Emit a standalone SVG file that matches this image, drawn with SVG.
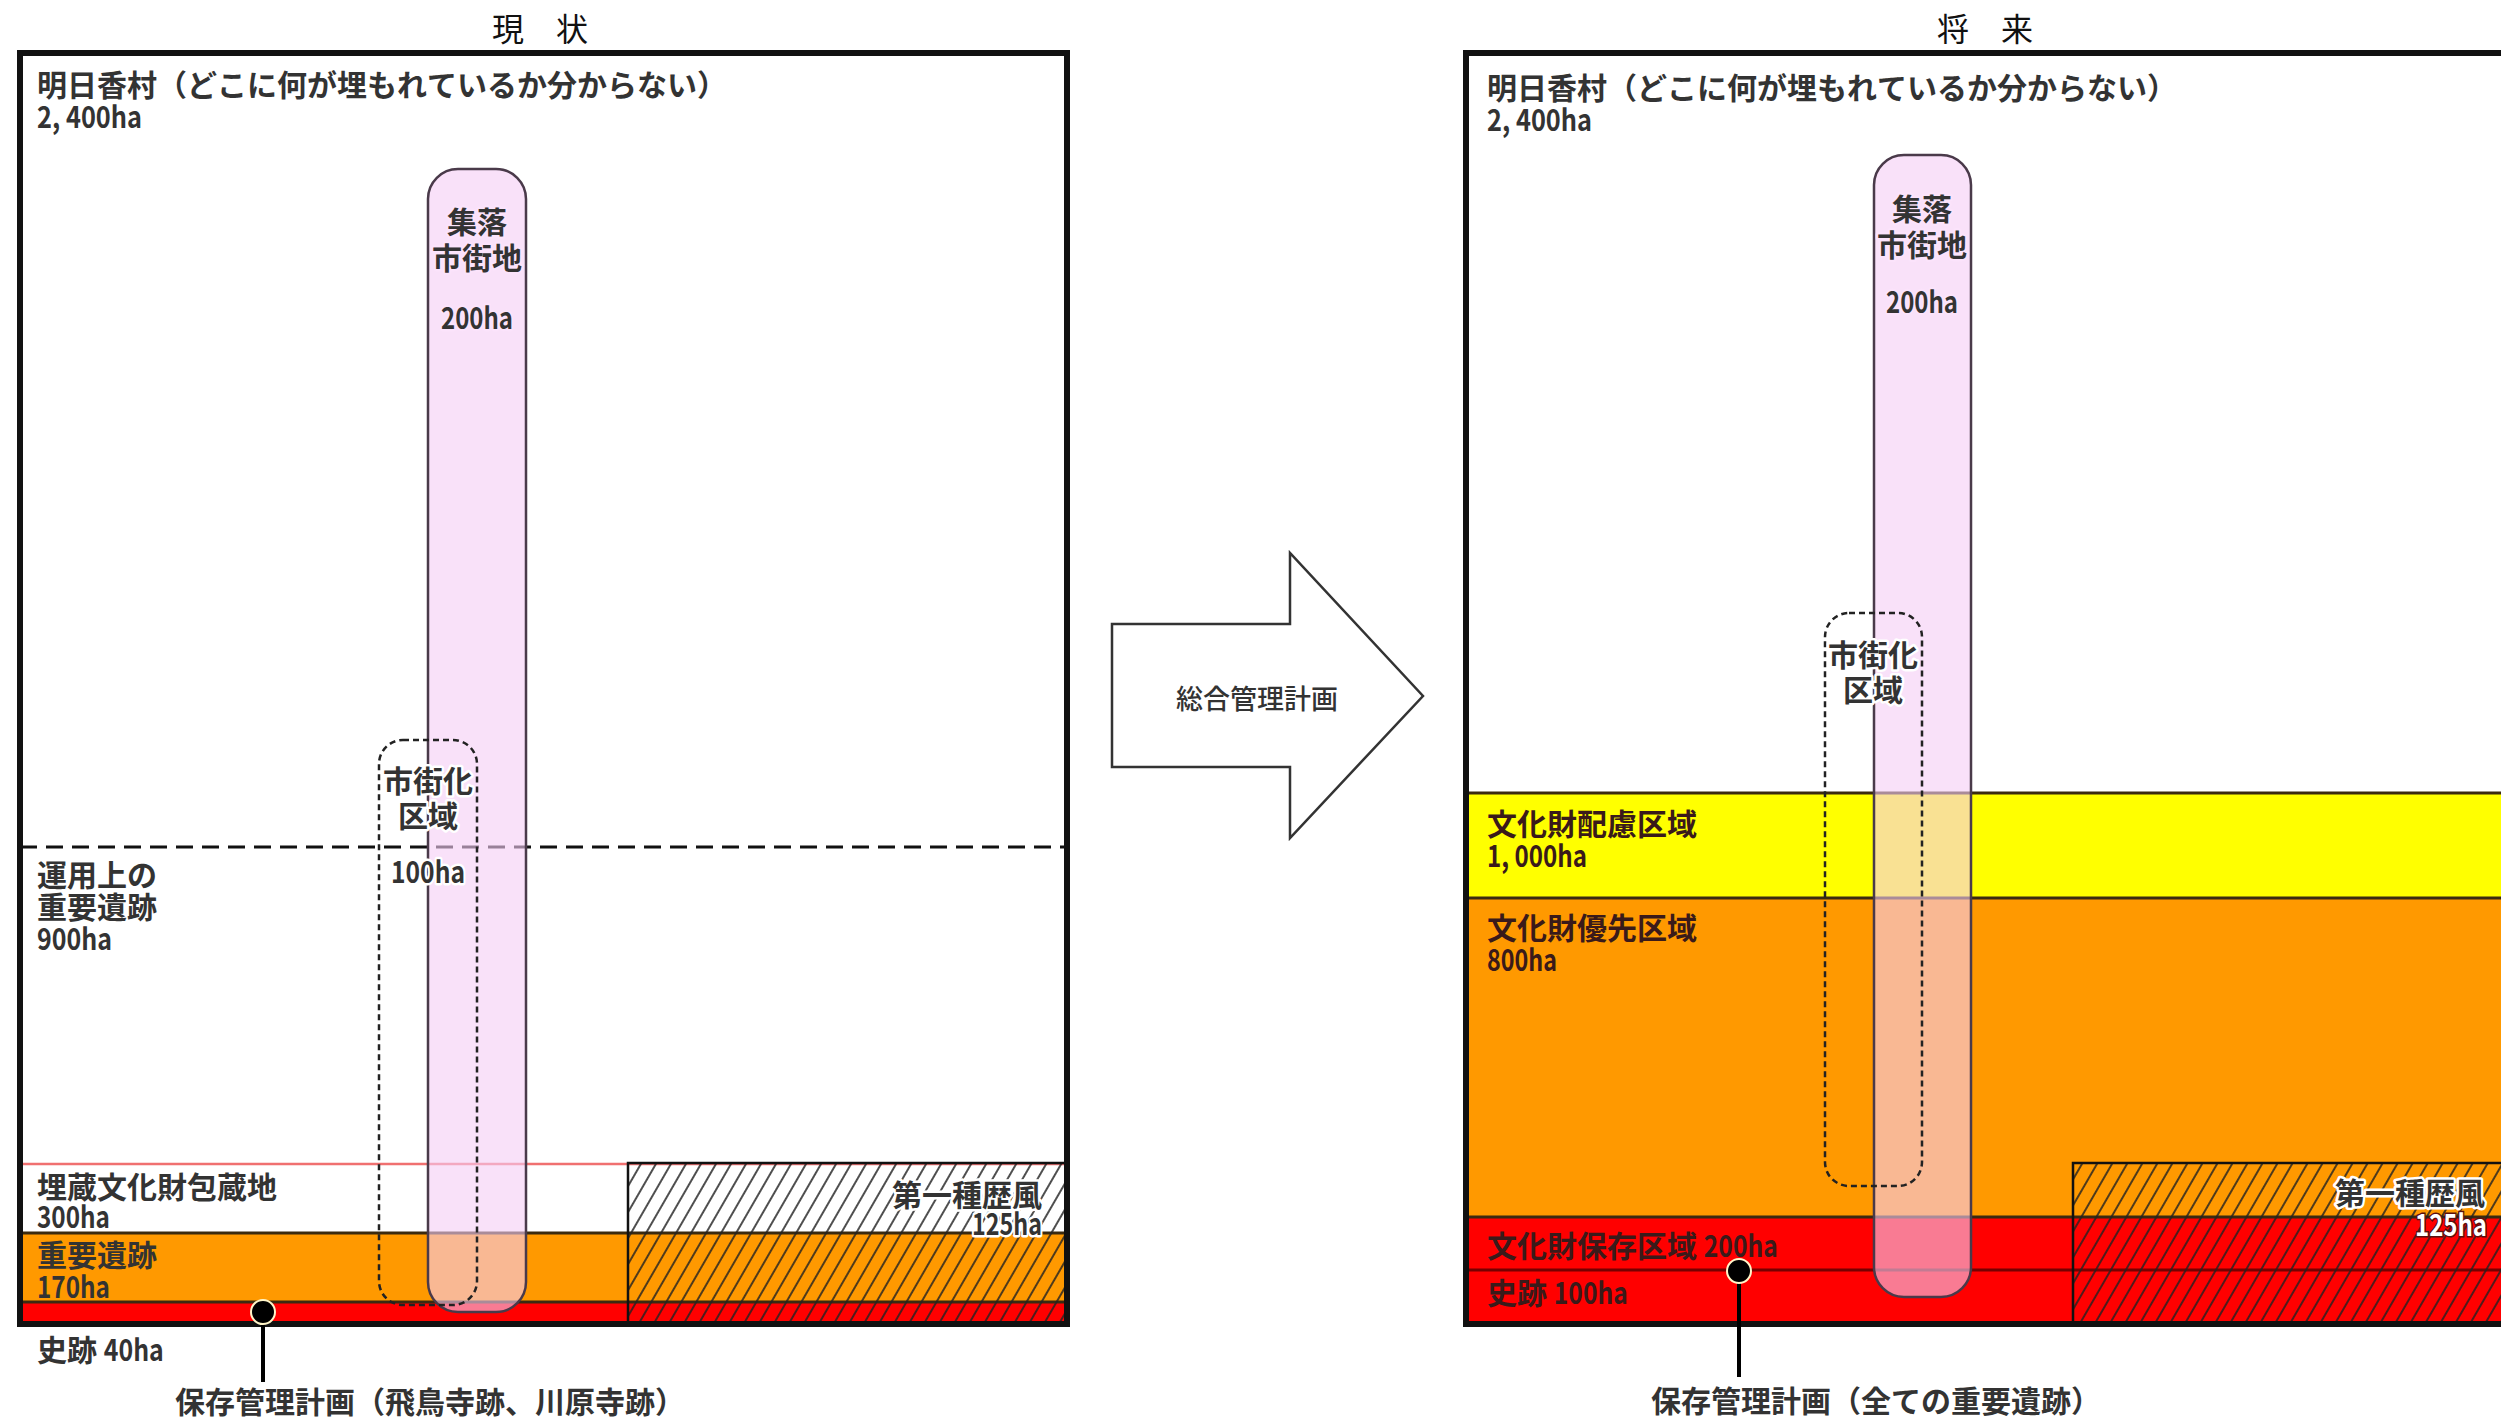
<svg xmlns="http://www.w3.org/2000/svg" width="2501" height="1420" viewBox="0 0 2501 1420">
<style>
text{font-family:"Noto Sans CJK JP","Noto Sans",sans-serif;font-size:30px;fill:#333;font-weight:700;dominant-baseline:central;font-kerning:none}
.title{font-size:32px;fill:#111;font-weight:400;text-anchor:middle}
.mid{text-anchor:middle}
.end{text-anchor:end}
.halo{paint-order:stroke;stroke:#fff;stroke-width:5px;stroke-linejoin:round}
.phalo{paint-order:stroke;stroke:#fbe3fb;stroke-width:5px;stroke-linejoin:round}
.frame{fill:none;stroke:#111;stroke-width:6}
.capsule{fill:rgb(245,205,245);fill-opacity:0.6;stroke:#4a3a4a;stroke-width:2.5}
.dbox{fill:none;stroke:#222;stroke-width:2.5;stroke-dasharray:6 4}
.bline{stroke:#3a2a10;stroke-width:3}
.hatchbox{fill:url(#hatch);stroke:#111;stroke-width:2.5}
.dark{fill:#3a1a1a}
</style>
<defs>
<pattern id="hatch" patternUnits="userSpaceOnUse" width="13" height="13" patternTransform="rotate(30)">
<line x1="6" y1="-2" x2="6" y2="15" stroke="#222" stroke-width="1.6"/>
</pattern>
</defs>
<rect x="0" y="0" width="2501" height="1420" fill="#fff"/>

<text id="title-left" class="title" x="540" y="27">現　状</text>
<text id="title-right" class="title" x="1985" y="27">将　来</text>

<g id="panel-left">
<rect x="20" y="53" width="1047" height="1271" fill="#fff"/>
<rect x="20" y="1233" width="1047" height="69" fill="#ff9900"/>
<rect x="20" y="1302" width="1047" height="20" fill="#ff0000"/>
<line x1="20" y1="1164" x2="1067" y2="1164" stroke="#f07070" stroke-width="2.5"/>
<line class="bline" x1="20" y1="1233" x2="1067" y2="1233"/>
<line class="bline" x1="20" y1="1302" x2="1067" y2="1302"/>
<rect class="hatchbox" x="628" y="1163" width="439" height="161"/>
<line x1="20" y1="847" x2="1067" y2="847" stroke="#111" stroke-width="3" stroke-dasharray="17 9"/>
</g>

<g id="panel-right">
<rect x="1466" y="53" width="1060" height="1271" fill="#fff"/>
<rect x="1466" y="793" width="1060" height="105" fill="#ffff00"/>
<rect x="1466" y="898" width="1060" height="319" fill="#ff9900"/>
<rect x="1466" y="1217" width="1060" height="105" fill="#ff0000"/>
<line class="bline" x1="1466" y1="793" x2="2510" y2="793"/>
<line class="bline" x1="1466" y1="898" x2="2510" y2="898"/>
<line class="bline" x1="1466" y1="1217" x2="2510" y2="1217"/>
<line x1="1466" y1="1270" x2="2510" y2="1270" stroke="#700" stroke-width="3"/>
<rect class="hatchbox" x="2073" y="1163" width="450" height="161"/>
</g>

<g id="village-left">
<text x="37" y="83"><tspan x="37" y="83">明日香村（どこに何が埋もれているか分からない）</tspan><tspan x="37" y="115" textLength="105" lengthAdjust="spacingAndGlyphs">2, 400ha</tspan></text>
</g>
<g id="village-right">
<text x="1487" y="86"><tspan x="1487" y="86">明日香村（どこに何が埋もれているか分からない）</tspan><tspan x="1487" y="118" textLength="105" lengthAdjust="spacingAndGlyphs">2, 400ha</tspan></text>
</g>

<g id="important-operational">
<text x="37" y="873"><tspan x="37" y="873">運用上の</tspan><tspan x="37" y="905">重要遺跡</tspan><tspan x="37" y="937" textLength="75" lengthAdjust="spacingAndGlyphs">900ha</tspan></text>
</g>

<g id="buried-left">
<text x="37" y="1185"><tspan x="37" y="1185">埋蔵文化財包蔵地</tspan><tspan x="37" y="1215" textLength="73" lengthAdjust="spacingAndGlyphs">300ha</tspan></text>
</g>
<g id="important-left">
<text x="37" y="1253"><tspan x="37" y="1253">重要遺跡</tspan><tspan x="37" y="1285" textLength="73" lengthAdjust="spacingAndGlyphs">170ha</tspan></text>
</g>
<g id="historic-left">
<text x="37" y="1348">史跡 <tspan textLength="60" lengthAdjust="spacingAndGlyphs">40ha</tspan></text>
</g>
<g id="scenic-left">
<text class="end halo" x="1042" y="1193"><tspan x="1042" y="1193">第一種歴風</tspan><tspan x="1042" y="1222" textLength="70" lengthAdjust="spacingAndGlyphs">125ha</tspan></text>
</g>

<g id="zone-consider">
<text class="dark" x="1487" y="822"><tspan x="1487" y="822">文化財配慮区域</tspan><tspan x="1487" y="854" textLength="100" lengthAdjust="spacingAndGlyphs">1, 000ha</tspan></text>
</g>
<g id="zone-priority">
<text class="dark" x="1487" y="926"><tspan x="1487" y="926">文化財優先区域</tspan><tspan x="1487" y="958" textLength="70" lengthAdjust="spacingAndGlyphs">800ha</tspan></text>
</g>
<g id="zone-preserve">
<text class="dark" x="1487" y="1244">文化財保存区域 <tspan textLength="74" lengthAdjust="spacingAndGlyphs">200ha</tspan></text>
</g>
<g id="historic-right">
<text class="dark" x="1487" y="1291">史跡 <tspan textLength="74" lengthAdjust="spacingAndGlyphs">100ha</tspan></text>
</g>
<g id="scenic-right">
<text class="end halo" x="2485" y="1191">第一種歴風</text>
<text class="end" x="2487" y="1223" textLength="72" lengthAdjust="spacingAndGlyphs" style="fill:#fff;stroke:#5a1010;stroke-width:3px;paint-order:stroke">125ha</text>
</g>

<g id="settlement-left">
<rect class="capsule" x="428" y="169" width="98" height="1143" rx="30"/>
<text class="mid phalo" x="477" y="220"><tspan x="477" y="220">集落</tspan><tspan x="477" y="256">市街地</tspan><tspan x="477" y="316" textLength="72" lengthAdjust="spacingAndGlyphs">200ha</tspan></text>
</g>
<g id="urbanization-left">
<rect class="dbox" x="379" y="740" width="98" height="565" rx="24"/>
<text class="mid halo" x="428" y="779"><tspan x="428" y="779">市街化</tspan><tspan x="428" y="814">区域</tspan><tspan x="428" y="870" textLength="74" lengthAdjust="spacingAndGlyphs">100ha</tspan></text>
</g>

<g id="settlement-right">
<rect class="capsule" x="1874" y="155" width="97" height="1142" rx="30"/>
<text class="mid phalo" x="1922" y="207"><tspan x="1922" y="207">集落</tspan><tspan x="1922" y="243">市街地</tspan><tspan x="1922" y="300" textLength="72" lengthAdjust="spacingAndGlyphs">200ha</tspan></text>
</g>
<g id="urbanization-right">
<rect class="dbox" x="1825" y="613" width="97" height="573" rx="24"/>
<text class="mid halo" x="1873" y="653"><tspan x="1873" y="653">市街化</tspan><tspan x="1873" y="688">区域</tspan></text>
</g>

<rect class="frame" x="20" y="53" width="1047" height="1271"/>
<rect class="frame" x="1466" y="53" width="1060" height="1271"/>

<g id="arrow">
<polygon points="1112,624 1290,624 1290,553 1423,696 1290,838 1290,767 1112,767" fill="#fff" stroke="#333" stroke-width="2.5"/>
<text class="mid" x="1257" y="697" style="font-size:27px;font-weight:500">総合管理計画</text>
</g>

<g id="connectors">
<line x1="263" y1="1312" x2="263" y2="1382" stroke="#000" stroke-width="4"/>
<circle cx="263" cy="1312" r="12" fill="#000" stroke="#fff5c8" stroke-width="2"/>
<line x1="1739" y1="1271" x2="1739" y2="1377" stroke="#000" stroke-width="4"/>
<circle cx="1739" cy="1271" r="12" fill="#000" stroke="#fff5c8" stroke-width="2"/>
</g>

<g id="plan-left">
<text x="175" y="1400">保存管理計画（飛鳥寺跡、川原寺跡）</text>
</g>
<g id="plan-right">
<text x="1651" y="1399">保存管理計画（全ての重要遺跡）</text>
</g>
</svg>
